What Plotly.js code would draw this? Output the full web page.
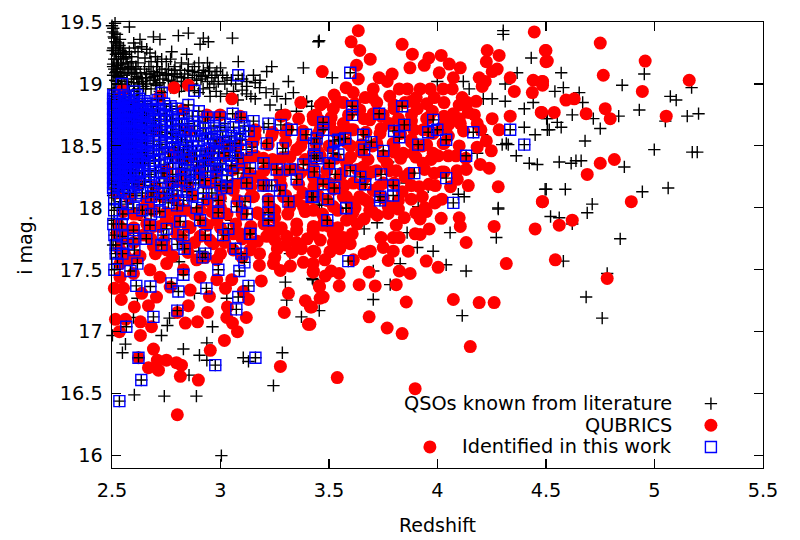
<!DOCTYPE html>
<html><head><meta charset="utf-8">
<script src="https://cdn.plot.ly/plotly-3.0.1.min.js"></script>
<style>html,body{margin:0;padding:0;background:#fff}</style></head>
<body><div id="chart" style="width:800px;height:540px"></div>
<script>
// [redshift, i mag]
const literature = [
[4.570,19.09],[4.58,18.97],[4.541,18.94],[4.653,18.93],[4.669,18.85],[4.851,18.99],[4.953,19.08],[5.171,18.97],[5.073,18.90],[5.10,18.87],[4.93,18.79],[4.835,18.74],[4.621,18.75],[4.718,18.72],[4.75,18.64],[4.503,18.72],[4.552,18.69],[4.57,18.65],[4.515,18.63],[5.151,18.74],[5.203,18.76],[5.05,18.70],[4.68,18.54],[4.999,18.47],[5.174,18.45],[5.197,18.45],[4.561,18.37],[4.616,18.36],[4.638,18.38],[4.662,18.38],[4.861,18.33],[4.501,18.15],[4.589,18.15],[5.063,18.16],[4.944,18.13],[4.713,18.03],[4.69,17.96],[4.521,17.93],[4.561,17.92],[4.621,17.87],[4.842,17.75],[4.58,17.57],[4.782,17.47],[4.685,17.28],[4.759,17.11],
[3.455,19.35],[4.303,19.40],[4.303,19.43],[4.432,19.21],[4.367,19.09],[3.515,19.05],[4.119,19.02],[3.999,19.02],[4.146,18.96],[4.312,19.0],[4.211,18.88],[4.252,18.88],[4.312,18.86],[4.4,18.80],[4.441,18.85],[4.506,18.72],[4.4,18.65],[4.506,18.63],[4.45,18.59],[4.206,18.59],[4.298,18.51],[4.326,18.51],[4.317,18.52],[4.363,18.42],[4.423,18.36],[4.46,18.35],[4.183,18.44],[4.496,18.15],[4.096,18.11],[4.123,18.09],[3.957,18.17],[3.773,18.37],[4.28,18.0],[3.857,18.2],[3.455,18.03],
[4.28,17.99],[4.058,17.80],[4.271,17.76],[3.86,17.80],[3.907,17.68],[3.98,17.65],[4.04,17.54],[4.132,17.49],[3.828,17.55],[3.704,17.26],[3.782,17.38],[4.114,17.13],[3.455,17.17],[3.427,17.42],[3.704,17.49],[3.662,17.83],[3.722,17.88],[3.911,18.01],[3.466,18.02],
[3.004,16.0],[2.889,16.48],[2.741,16.48],[2.603,16.49],[3.244,16.565],[2.855,16.65],[3.285,16.83],[3.129,16.76],[3.105,16.79],[2.903,16.81],[2.829,16.86],[2.937,16.91],[2.548,16.83],[2.562,16.9],[2.728,16.97],[2.963,17.04],[2.755,17.05],[2.765,17.11],[3.373,17.12],[2.599,17.115],[2.502,16.97],[3.029,17.27],[2.88,17.31],[3.299,17.4],[3.423,17.43],[3.305,17.255],[2.937,16.77],[2.617,17.27],[2.809,17.565],[3.32,17.63],[3.259,17.75],
[2.58,19.46],[2.514,19.49],[2.506,19.45],[2.514,19.41],[2.51,19.37],[2.522,19.33],[2.506,19.29],[2.537,19.36],[2.553,19.29],[2.53,19.25],[2.806,19.39],[2.852,19.41],[3.055,19.37],[3.451,19.34],[2.691,19.38],[2.721,19.36],[2.921,19.37],[2.944,19.34],[2.906,19.32],[2.629,19.36],[2.606,19.29],[2.637,19.30],[2.775,19.26],[2.844,19.24],[2.675,19.25],[2.652,19.21],[3.082,19.18],[3.382,19.13],[3.236,19.14],[3.213,19.10],[2.729,19.2],[2.706,19.14],[2.814,19.11],[2.852,19.16],[2.921,19.11],[2.983,19.10],[3.152,19.07],[3.313,19.02],[3.182,19.03],[3.244,18.96],[3.336,18.93],[3.228,18.83],[3.382,18.85],[3.397,18.86],[3.121,18.98],[2.952,18.9],
[2.553,19.2],[2.583,19.14],[2.537,19.09],[2.614,19.06],[2.568,19.02],[2.522,19.02],[2.675,19.05],[2.645,18.98],[2.514,18.95],[2.752,19.07],[2.783,19.02],[2.706,18.99],[2.52,19.2],[2.505,19.16],[2.51,19.12],[2.545,19.16],[2.56,19.12],[2.525,19.06],[2.59,19.22],[2.62,19.17],[2.65,19.12],[2.66,19.08],[2.71,19.07],[2.735,19.04],[2.76,19.12],[2.8,19.06],[2.835,19.08],[2.87,19.1],[2.9,19.09],[2.93,19.07],[2.96,19.05],[2.99,19.02],[3.03,19.05],[3.07,19.0],[2.82,18.98],[2.87,19.0],[2.92,18.96],[2.98,18.94],[2.6,18.98],[2.54,18.98],[2.68,18.96],[2.74,18.97],[2.505,18.85],[2.53,18.8],[2.505,18.7],[2.52,18.62],[2.505,18.5],[2.53,18.4],[2.51,18.3],[2.54,18.2],[2.505,18.1],[2.53,18.0],[2.51,17.9],[2.52,17.8],[2.505,17.7],[2.53,17.6],
[2.78,18.6],[2.85,18.5],[2.95,18.4],[3.05,18.3],[2.9,18.2],[2.75,18.1],[2.85,18.0],[3.0,18.05],[3.15,18.1],[3.3,18.45],[3.2,18.65],[3.1,18.55],[3.0,18.65],[2.9,18.7],[2.7,18.7],[2.65,18.5],[2.7,18.3],[2.8,18.25],[2.6,18.1],[2.65,17.9],[2.75,17.75],[2.9,17.65],[3.05,17.9],
[2.502,19.42],[2.508,19.38],[2.516,19.34],[2.528,19.31],[2.503,19.27],[2.518,19.24],[2.54,19.22],[2.51,19.2],[2.53,19.17],[2.505,19.14],[2.55,19.13],[2.52,19.1],[2.57,19.09],[2.505,19.07],[2.59,19.08],[2.545,19.05],[2.62,19.04],[2.515,19.03],[2.6,19.01],[2.56,18.99],[2.64,19.02],[2.53,18.97],[2.505,18.96],[2.66,19.0],[2.58,18.95],[2.69,19.03],[2.62,18.96],[2.72,19.01],[2.76,19.03],[2.79,18.99],[2.83,19.02],[2.85,19.05],[2.89,19.03],[2.91,19.04],[2.94,19.02],[2.97,19.0],[3.01,19.07],[3.05,19.03],[3.1,19.04],[3.12,19.02],[3.16,19.01],[2.69,19.1],[2.73,19.12],[2.79,19.14],[2.82,19.17],[2.61,19.12],[2.63,19.09],[2.57,19.17],[2.59,19.18],[2.56,19.24],[2.58,19.26],[2.54,19.27],[2.6,19.33],[2.62,19.26],[2.68,19.18],[2.7,19.22],[2.66,19.28],[2.75,19.18],[2.9,19.17],[2.95,19.13],[3.0,19.13],[3.18,18.97],[3.21,18.93],[3.26,18.9],[3.12,18.92],[3.16,18.88],[3.03,18.92],[3.08,18.87],
[2.5,19.47],[2.523,19.4],[2.535,19.31],[2.515,19.27],[2.548,19.25],[2.565,19.21],[2.525,19.15],[2.575,19.13],[2.597,19.12],[2.54,19.12],[2.515,19.09],[2.555,19.07],[2.59,19.04],[2.605,19.09],[2.635,19.05],[2.655,19.05],[2.68,19.08],[2.695,19.06],[2.72,19.09],[2.745,19.08],[2.775,19.08],[2.787,19.11],[2.82,19.05],[2.85,19.11],[2.88,19.07],[2.915,19.06],[2.945,19.1],[2.975,19.07],[3.02,19.0],[2.7,19.0],[2.77,18.97],[2.81,18.94],[2.855,18.95],[2.9,18.93],[2.95,18.97],[3.0,18.9],[3.06,18.94],[2.53,19.05],[2.575,18.98],[2.625,19.0],[2.655,18.96],[2.72,18.94],[2.61,19.14],[2.67,19.14],[2.71,19.18],[2.77,19.2],[2.79,19.08],[2.88,19.14],[2.94,19.17],[3.1,18.95],[3.14,18.9],[3.3,18.88],[3.42,18.82],[3.28,18.79],[3.35,18.78]
];
const qubrics = [
[4.750,19.33],[4.50,19.27],[4.506,19.185],[4.957,19.185],[4.764,19.07],[5.16,19.03],[4.484,19.02],[4.484,18.99],[4.944,18.94],[4.592,18.87],[4.63,18.88],[4.773,18.80],[4.796,18.72],[4.48,18.77],[4.538,18.77],[4.685,18.76],[5.054,18.74],[4.815,18.39],[4.75,18.36],[4.69,18.27],[4.484,18.05],[4.893,18.05],[4.621,17.90],[4.561,17.86],[4.543,17.58],[4.782,17.43],
[3.635,19.43],[3.602,19.34],[3.642,19.27],[3.69,19.20],[3.837,19.32],[3.884,19.24],[3.873,19.13],[3.469,19.10],[3.627,19.15],[3.635,19.04],[3.731,19.05],[3.791,19.08],[3.768,19.02],[3.939,19.15],[3.96,19.21],[4.017,19.23],[4.054,19.16],[4.105,19.13],[4.008,19.09],[4.073,19.05],[4.229,19.27],[4.284,19.23],[4.225,19.18],[4.275,19.12],[4.252,19.10],[4.192,19.05],[4.22,19.02],[4.206,18.98],[4.335,19.05],[4.446,19.42],[4.497,19.27],[4.50,19.18],[4.441,19.03],[4.483,19.02],[4.354,18.94],[4.437,18.93],[4.478,18.77],[3.524,18.91],[3.579,18.97],[3.612,18.93],[3.704,18.96],[3.667,18.89],[3.70,18.89],[3.473,18.85],[3.52,18.80],[3.566,18.85],[3.78,18.90],[3.824,18.96],[3.861,18.96],[3.92,18.96],[3.967,18.96],[4.026,18.96],[4.068,18.96],[3.985,18.89],[3.902,18.89],[4.114,18.89],[4.178,18.86],[4.137,18.85],[3.907,18.80],[4.142,18.77],[4.073,18.76],[3.976,18.78],[4.105,18.68],[4.054,18.68],[4.183,18.68],[4.252,18.72],[4.335,18.74],[4.284,18.63],[4.225,18.54],[4.183,18.49],[4.248,18.46],[4.197,18.35],[4.238,18.32],[4.132,18.31],[4.091,18.23],[4.142,18.18],[4.28,18.17],[4.483,18.05],[3.985,18.28],[4.031,18.29],[3.99,18.18],[3.916,18.17],[3.879,18.07],[3.837,18.13],[3.81,18.30],[3.934,18.36],[3.768,18.36],[3.842,18.44],[3.888,18.44],[3.796,18.52],[3.98,18.44],[4.003,18.42],[4.085,18.42],[4.026,18.52],[3.778,18.68],[3.842,18.67],[3.934,18.63],[3.735,18.60],[3.612,18.63],[3.566,18.68],[3.688,18.71],[3.504,18.68],[3.642,18.79],[3.704,18.76],[3.75,18.41],[3.658,18.33],[3.581,18.36],[3.612,18.20],[3.704,18.14],[3.566,18.09],[3.642,18.09],[3.773,18.01],[3.993,18.05],[3.942,18.0],[3.52,18.01],[3.427,18.74],[3.427,18.33],
[3.83,18.6],[3.88,18.55],[3.93,18.5],[3.98,18.6],[3.88,18.7],[3.8,18.45],[3.7,18.5],[3.65,18.45],[3.6,18.5],[3.55,18.6],[3.75,18.75],[3.8,18.8],[3.85,18.85],[3.95,18.72],[4.02,18.65],[4.05,18.58],[3.72,18.3],[3.85,18.25],[3.75,18.2],[3.67,18.25],[3.55,18.25],[3.5,18.35],[3.45,18.45],[3.45,18.6],[3.5,18.5],[3.6,18.05],[3.52,18.15],[3.46,18.22],[3.68,18.05],[3.62,18.0],
[4.45,17.83],[4.261,17.85],[4.10,17.92],[4.105,17.85],[4.132,17.72],[4.317,17.55],[3.948,17.57],[4.003,17.52],[3.865,17.65],[3.796,17.65],[3.773,17.575],[3.824,17.49],[3.874,17.47],[3.81,17.38],[3.685,17.48],[3.639,17.38],[3.713,17.37],[3.856,17.24],[4.073,17.26],[4.192,17.235],[4.261,17.235],[3.685,17.12],[3.768,17.03],[3.837,16.985],[4.151,16.88],[3.538,16.63],[3.897,16.54],[3.473,17.28],[3.547,17.37],[3.455,17.37],[3.547,17.47],[3.51,17.49],[3.483,17.45],[3.662,17.63],[3.69,17.65],[3.75,17.68],[3.74,17.76],[3.824,17.76],[3.796,17.76],[3.897,17.79],[3.92,17.785],[3.962,17.83],[3.81,17.86],[3.847,17.92],[3.92,17.91],[3.948,17.97],[4.017,17.915],[3.773,17.955],[3.722,17.94],[3.662,17.91],[3.607,17.79],[3.566,17.76],[3.52,17.79],[3.598,17.71],[3.55,17.67],[3.504,17.645],[3.481,17.58],[3.435,17.645],[3.427,17.55],[3.427,17.48],[3.42,17.2],[3.412,17.06],[3.427,17.82],[3.581,17.90],[3.988,18.04],[3.688,17.98],[3.612,17.58],
[2.801,16.33],[2.898,16.61],[3.276,16.72],[2.815,16.64],[2.714,16.69],[2.668,16.71],[2.751,16.77],[2.709,16.77],[2.797,16.75],[2.82,16.73],[2.622,16.79],[2.691,16.86],[2.953,16.85],[3.018,16.93],[2.631,16.97],[2.534,17.0],[2.516,17.10],[2.562,17.10],[2.682,17.04],[2.631,17.08],[2.838,17.07],[2.894,17.08],[3.078,17.0],[3.405,17.06],[3.414,17.20],[3.391,17.25],[3.294,17.155],[3.313,17.31],[3.188,17.41],[3.276,17.495],[3.322,17.53],[3.179,17.535],[3.244,17.55],[3.428,17.49],[3.382,17.56],[3.428,17.65],[3.373,17.67],[3.262,17.67],[3.456,17.36],[3.459,17.27],[3.129,17.26],[3.105,17.325],[3.023,17.35],[3.032,17.2],[3.029,17.115],[3.119,17.115],[3.055,17.07],[2.94,17.155],[2.852,17.21],[2.949,17.285],[2.801,17.155],[2.705,17.28],[2.603,17.2],[2.668,17.21],[2.543,17.26],[2.511,17.35],[2.553,17.35],[2.599,17.47],[2.537,17.55],[2.537,17.66],[2.675,17.5],[2.752,17.55],[2.768,17.36],[2.829,17.5],[2.906,17.44],[2.983,17.42],[3.052,17.42],[2.89,17.58],[2.983,17.58],[3.059,17.66],[3.136,17.66],[2.691,17.69],[2.844,17.69],[2.967,17.71],[3.213,17.77],[3.305,17.77],[3.428,17.79],[3.136,17.82],[3.228,17.82],[3.351,17.82],[2.645,17.78],[2.798,17.79],[2.906,17.77],[3.059,17.79],[2.629,17.61],[2.752,17.66],[2.583,17.58],[2.721,17.44],[2.86,17.336],[2.637,17.31],[2.537,17.44],
[2.786,18.97],[2.852,18.99],[3.052,18.88],[2.549,18.95],[3.298,18.75],[3.159,18.58],[3.236,18.58],[3.428,18.71],[3.136,18.41],[3.198,18.4],[3.282,18.4],[3.351,18.47],[3.428,18.44],[3.167,18.25],[3.274,18.23],[3.367,18.28],[3.428,18.25],[3.059,18.14],[3.029,18.17],[3.152,18.09],[3.228,18.01],[3.32,18.01],[3.382,18.01],[3.428,17.98],[3.351,17.87],[3.259,17.82],[3.428,17.85],[2.983,17.9],[2.906,17.98],[2.844,17.98],[2.798,17.96],[2.691,17.85],[2.568,17.82],[2.522,17.79],[3.09,17.79],[3.029,17.79],[2.952,18.2],[2.829,18.2],[2.906,18.28],[2.814,18.41],[3.09,18.74],[2.998,18.75],[2.937,18.75],[2.829,18.79],
[3.1,17.95],[3.18,17.95],[3.25,17.92],[3.3,18.1],[3.38,18.12],[3.2,18.18],[3.1,18.2],[3.0,18.0],[2.92,17.88],[2.85,17.85],[2.75,17.9],[2.65,18.0],[2.6,17.95],[3.15,17.72],[3.3,17.7],[3.4,17.75],[3.48,17.9],[3.5,17.85],[3.45,18.1],[3.3,18.3],[3.24,18.35],[3.1,18.35],[2.95,18.45],[3.03,18.5],[3.12,18.25],[3.38,18.55],[3.3,18.6],[3.46,18.7],
[3.965,16.07],
[2.56,17.62],[2.62,17.6],[2.7,17.63],[2.78,17.61],[2.85,17.64],[2.93,17.6],[3.0,17.63],[3.1,17.6],[3.18,17.63],[3.25,17.6],[3.33,17.64],
[2.54,17.74],[2.6,17.72],[2.68,17.75],[2.74,17.73],[2.82,17.76],[2.88,17.72],[2.95,17.74],[3.02,17.72],[3.1,17.75],[3.17,17.73],[3.25,17.74],[3.35,17.72],[3.46,17.74],[3.52,17.72],
[2.53,17.86],[2.6,17.84],[2.66,17.87],[2.72,17.85],[2.79,17.88],[2.86,17.84],[2.94,17.86],[3.0,17.84],[3.07,17.87],[3.14,17.85],[3.2,17.87],[3.28,17.84],[3.47,17.86],[3.54,17.84],[3.63,17.87],
[2.55,17.97],[2.62,17.95],[2.69,17.98],[2.75,17.96],[2.82,17.99],[2.88,17.95],[2.96,17.97],[3.03,17.95],[3.1,17.98],[3.17,17.96],[3.25,17.98],[3.31,17.95],[3.39,17.97],[3.47,17.95],[3.54,17.98],[3.61,17.96],[3.7,17.97],[3.82,17.99],[3.9,17.96],
[2.58,18.08],[2.66,18.06],[2.73,18.09],[2.79,18.07],[2.87,18.1],[2.94,18.06],[3.0,18.08],[3.08,18.06],[3.14,18.09],[3.22,18.07],[3.29,18.09],[3.35,18.06],[3.42,18.08],[3.49,18.06],[3.58,18.09],[3.66,18.07],[3.75,18.08],[3.82,18.06],[3.93,18.09],[4.02,18.07],
[2.62,18.19],[2.7,18.17],[2.77,18.2],[2.85,18.18],[2.93,18.2],[3.0,18.17],[3.06,18.19],[3.14,18.17],[3.2,18.2],[3.28,18.18],[3.36,18.19],[3.43,18.17],[3.5,18.2],[3.57,18.18],[3.65,18.19],[3.73,18.17],[3.8,18.2],[3.88,18.18],[3.96,18.19],[4.06,18.17],
[2.75,18.3],[2.82,18.28],[2.9,18.31],[2.98,18.29],[3.06,18.31],[3.13,18.28],[3.2,18.3],[3.27,18.28],[3.34,18.31],[3.42,18.29],[3.49,18.3],[3.56,18.28],[3.63,18.31],[3.7,18.29],[3.78,18.3],[3.87,18.28],[3.94,18.31],[4.02,18.29],[4.09,18.3],
[2.86,18.41],[2.94,18.39],[3.02,18.42],[3.09,18.4],[3.16,18.42],[3.24,18.39],[3.32,18.41],[3.39,18.39],[3.46,18.42],[3.53,18.4],[3.6,18.41],[3.68,18.39],[3.75,18.42],[3.83,18.4],[3.9,18.41],[3.97,18.39],[4.05,18.42],[4.13,18.4],
[3.0,18.52],[3.08,18.5],[3.15,18.53],[3.22,18.51],[3.3,18.53],[3.37,18.5],[3.44,18.52],[3.51,18.5],[3.58,18.53],[3.65,18.51],[3.72,18.52],[3.8,18.5],[3.88,18.53],[3.95,18.51],[4.03,18.52],[4.1,18.5],
[3.16,18.63],[3.24,18.61],[3.31,18.64],[3.38,18.62],[3.46,18.64],[3.53,18.61],[3.6,18.63],[3.67,18.61],[3.74,18.64],[3.82,18.62],[3.89,18.63],[3.97,18.61],[4.04,18.64],[4.12,18.62],[4.2,18.63],
[3.28,18.74],[3.36,18.72],[3.44,18.75],[3.51,18.73],[3.59,18.75],[3.66,18.72],[3.74,18.74],[3.82,18.72],[3.88,18.75],[3.96,18.73],[4.03,18.74],[4.1,18.72],[4.17,18.75],
[3.37,18.85],[3.46,18.83],[3.54,18.86],[3.62,18.84],[3.72,18.85],[3.8,18.83],[3.88,18.86],[3.95,18.84],[4.03,18.85],[4.1,18.83],
[2.53,18.88],[2.6,18.83],[2.72,18.9],[2.54,18.7],[2.7,18.62],[2.85,18.62],[2.62,18.4],[2.78,18.45],[2.54,18.3],[2.68,18.08],[2.52,18.12]
];
const identified = [
[3.598,19.09],[3.607,18.82],[3.607,18.75],[3.731,18.76],[3.837,18.82],[3.98,18.71],[3.847,18.67],[3.80,18.62],[3.824,18.57],[3.957,18.61],[3.999,18.63],[4.04,18.55],[3.911,18.51],[4.165,18.61],[4.335,18.63],[4.40,18.51],[4.132,18.42],[4.04,18.24],[3.893,18.28],[3.74,18.27],[3.75,18.46],[3.695,18.53],[3.658,18.59],[3.662,18.47],[3.575,18.56],[3.543,18.55],[3.524,18.54],[3.473,18.69],[3.473,18.63],[3.432,18.52],[3.432,18.42],[3.52,18.44],[3.543,18.43],[3.501,18.36],[3.598,18.30],[3.529,18.27],[3.644,18.25],[3.667,18.19],[3.524,18.16],[3.473,18.19],[3.432,18.29],[3.427,18.09],[3.496,18.07],[3.796,18.18],[3.796,18.10],[3.736,18.09],[3.579,18.0],[4.073,18.04],
[3.589,17.57],[3.492,17.90],[3.579,17.996],[3.735,18.06],
[2.534,16.44],[2.635,16.61],[2.976,16.73],[2.622,16.79],[3.161,16.79],[2.566,17.04],[2.691,17.12],[2.801,17.17],[3.073,17.18],[3.082,17.28],[3.129,17.37],[2.935,17.35],[2.806,17.325],[2.774,17.39],[2.677,17.365],[2.612,17.37],[2.511,17.50],[2.525,17.55],[2.585,17.49],[2.617,17.55],[2.829,17.46],[2.99,17.50],[3.087,17.49],[3.11,17.56],[3.096,17.63],[3.069,17.67],[2.917,17.6],[2.93,17.63],[2.834,17.67],[2.801,17.705],[2.728,17.70],[2.603,17.66],[2.517,17.70],[2.517,17.63],[2.548,17.63],[2.571,17.71],[2.548,17.77],[2.511,17.78],[2.599,17.75],[2.658,17.75],[2.829,17.78],[2.737,17.78],[2.93,17.78],[3.013,17.78],[3.138,17.79],
[3.082,19.07],[2.88,18.945],[2.545,19.0],[2.603,18.94],[2.729,18.93],[2.506,18.91],[2.852,18.83],[2.941,18.73],[2.998,18.73],[3.056,18.76],[3.095,18.73],[3.152,18.70],[3.221,18.68],[3.278,18.67],[3.328,18.63],[3.394,18.59],[3.443,18.56],[3.287,18.48],[3.213,18.52],[3.144,18.49],[3.198,18.36],[3.136,18.32],[3.259,18.31],[3.351,18.23],[3.382,18.35],[3.443,18.4],[3.32,18.31],[3.236,18.18],[3.198,18.18],[3.121,18.2],[3.029,18.16],[3.42,18.09],[3.313,18.05],[3.274,18.14],[3.221,18.05],[3.221,17.96],[3.221,17.90],[3.113,18.05],[3.121,17.95],[3.075,18.01],[2.99,18.06],[2.99,17.96],[3.036,17.83],[3.136,17.79],[2.89,18.0],[2.906,17.9],[2.814,17.89],[2.752,17.83],[2.675,17.86],[2.545,17.87],[2.506,17.87],[2.599,17.82],[2.921,18.12],[2.844,18.13],
[2.505,18.88],[2.52,18.84],[2.54,18.86],[2.56,18.89],[2.58,18.87],[2.6,18.85],[2.625,18.88],[2.65,18.86],[2.68,18.84],[2.71,18.87],[2.505,18.8],[2.525,18.77],[2.545,18.8],[2.565,18.76],[2.585,18.8],[2.605,18.77],[2.63,18.8],[2.66,18.76],[2.69,18.79],[2.72,18.76],[2.75,18.79],[2.78,18.75],[2.81,18.72],[2.505,18.72],[2.525,18.69],[2.545,18.72],[2.565,18.68],[2.585,18.72],[2.605,18.69],[2.63,18.71],[2.66,18.68],[2.69,18.7],[2.72,18.67],[2.75,18.7],[2.78,18.66],[2.81,18.63],[2.85,18.68],[2.88,18.62],[2.92,18.64],[2.96,18.6],[3.0,18.62],[3.05,18.58],[3.09,18.6],
[2.505,18.64],[2.525,18.61],[2.545,18.64],[2.565,18.6],[2.585,18.64],[2.605,18.61],[2.63,18.63],[2.66,18.6],[2.69,18.62],[2.72,18.59],[2.75,18.61],[2.78,18.57],[2.82,18.55],[2.86,18.58],[2.9,18.54],[2.94,18.56],[2.98,18.52],[3.03,18.5],[3.07,18.52],[2.505,18.56],[2.525,18.53],[2.545,18.56],[2.565,18.52],[2.585,18.56],[2.605,18.53],[2.63,18.55],[2.66,18.52],[2.69,18.54],[2.72,18.51],[2.75,18.53],[2.79,18.49],[2.83,18.47],[2.87,18.5],[2.91,18.46],[2.95,18.48],[2.99,18.44],[3.04,18.42],[3.08,18.4],
[2.505,18.48],[2.525,18.45],[2.545,18.48],[2.565,18.44],[2.585,18.48],[2.605,18.45],[2.63,18.47],[2.66,18.44],[2.69,18.46],[2.72,18.43],[2.76,18.45],[2.8,18.41],[2.84,18.39],[2.88,18.42],[2.92,18.38],[2.96,18.4],[3.0,18.36],[2.505,18.4],[2.525,18.37],[2.545,18.4],[2.565,18.36],[2.585,18.4],[2.61,18.37],[2.64,18.39],[2.67,18.36],[2.7,18.38],[2.74,18.35],[2.78,18.36],[2.82,18.32],[2.86,18.3],[2.9,18.33],[2.94,18.29],[2.98,18.3],[3.03,18.26],
[2.505,18.32],[2.525,18.29],[2.545,18.32],[2.565,18.28],[2.585,18.31],[2.61,18.28],[2.64,18.3],[2.67,18.27],[2.7,18.29],[2.74,18.25],[2.78,18.27],[2.82,18.22],[2.86,18.2],[2.9,18.23],[2.505,18.24],[2.525,18.21],[2.545,18.24],[2.565,18.2],[2.59,18.22],[2.62,18.19],[2.65,18.21],[2.68,18.18],[2.72,18.2],[2.76,18.16],[2.8,18.14],[2.505,18.16],[2.525,18.13],[2.55,18.15],[2.58,18.12],[2.61,18.1],[2.64,18.12],[2.68,18.09],[2.72,18.07],[2.76,18.04],[2.8,18.02],[2.51,18.08],[2.54,18.05],[2.57,18.03],[2.6,18.0],[2.64,17.98],[2.68,17.95],[2.72,17.97],[2.51,17.98],[2.55,17.95],
[2.512,18.9],[2.535,18.88],[2.575,18.9],[2.615,18.91],[2.515,18.86],[2.555,18.85],[2.595,18.83],[2.64,18.84],[2.51,18.82],[2.535,18.82],[2.575,18.83],[2.62,18.82],[2.515,18.78],[2.555,18.78],[2.595,18.78],[2.64,18.78],[2.508,18.75],[2.535,18.74],[2.575,18.75],[2.615,18.74],[2.65,18.74],[2.515,18.7],[2.555,18.7],[2.595,18.7],[2.64,18.69],[2.51,18.67],[2.535,18.66],[2.575,18.66],[2.615,18.66],[2.65,18.66],[2.515,18.62],[2.555,18.62],[2.595,18.62],[2.64,18.61],[2.51,18.59],[2.535,18.58],[2.575,18.58],[2.615,18.58],[2.65,18.58],[2.515,18.54],[2.555,18.54],[2.595,18.54],[2.64,18.53],[2.51,18.51],[2.535,18.5],[2.575,18.5],[2.615,18.5],[2.65,18.5],[2.515,18.46],[2.555,18.46],[2.595,18.46],[2.64,18.45],[2.51,18.43],[2.535,18.42],[2.575,18.42],[2.615,18.42],[2.65,18.42],[2.515,18.38],[2.555,18.38],[2.595,18.38],[2.63,18.37],[2.51,18.35],[2.535,18.34],[2.575,18.34],[2.615,18.34],[2.65,18.34],[2.515,18.3],[2.555,18.3],[2.595,18.3],[2.625,18.29],[2.51,18.27],[2.535,18.26],[2.575,18.26],[2.61,18.25],[2.515,18.22],[2.555,18.22],[2.58,18.2],[2.51,18.19],[2.535,18.18],[2.57,18.17],[2.6,18.17],
[2.68,18.82],[2.71,18.8],[2.74,18.84],[2.77,18.82],[2.8,18.8],[2.83,18.76],[2.87,18.74],[2.9,18.78],[2.67,18.74],[2.7,18.72],[2.74,18.74],[2.77,18.71],[2.82,18.68],[2.84,18.62],[2.88,18.66],[2.93,18.69],[2.97,18.66],[3.02,18.68],[3.06,18.65],[3.11,18.66],[3.13,18.62],[2.68,18.65],[2.73,18.63],[2.77,18.6],[2.8,18.57],[2.84,18.53],[2.89,18.58],[2.93,18.6],[2.97,18.55],[3.01,18.57],[3.04,18.54],[3.09,18.55],[3.12,18.47],[3.07,18.45],[3.02,18.45],[2.97,18.45],[2.93,18.43],[2.89,18.46],[2.85,18.44],[2.81,18.46],[2.78,18.52],[2.73,18.48],[2.69,18.42],[2.72,18.39],[2.77,18.41],[2.81,18.36],[2.85,18.35],[2.89,18.37],[2.93,18.34],[2.97,18.34],[3.01,18.31],[3.05,18.34],[3.08,18.28],[3.03,18.22],[2.98,18.24],[2.93,18.22],[2.88,18.27],[2.84,18.26],[2.78,18.21],[2.73,18.28],[2.68,18.25],[2.69,18.13],[2.74,18.12],[2.78,18.1],[2.83,18.06],[2.87,18.1],[2.92,18.07],[2.96,18.12],[3.0,18.18]
];
const legendLabels = ["QSOs known from literature","QUBRICS","Identified in this work"];
const legendKeyZ = [5.26,5.26,5.26];
const legendKeyMag = [16.42,16.245,16.07];
const legendTextZ = 5.09;

const zOf = a => a.map(p => p[0]);
const magOf = a => a.map(p => p[1]);
const FONT = "DejaVu Sans";
const cross = {symbol:"cross-thin-open",size:8.8,color:"#000",line:{color:"#000",width:1.4}};
const disc = {symbol:"circle",size:13,color:"#ff0000",line:{width:0}};
const box = {symbol:"square-open",size:11,color:"#0000ff",line:{color:"#0000ff",width:1.4}};
const pts = (x,y,marker,name) => ({type:"scatter",mode:"markers",x,y,marker,name,showlegend:false,hoverinfo:"skip",cliponaxis:false});
const traces = [
  pts(zOf(literature),magOf(literature),cross,legendLabels[0]),
  pts(zOf(qubrics),magOf(qubrics),disc,legendLabels[1]),
  pts(zOf(identified),magOf(identified),cross,legendLabels[2]+" (literature mark)"),
  pts(zOf(identified),magOf(identified),box,legendLabels[2]),
  pts([legendKeyZ[0]],[legendKeyMag[0]],cross,"key"),
  pts([legendKeyZ[1]],[legendKeyMag[1]],disc,"key"),
  pts([legendKeyZ[2]],[legendKeyMag[2]],box,"key")
];
const axis = {showgrid:false,zeroline:false,showline:true,linecolor:"#000",linewidth:1.4,mirror:"allticks",ticks:"inside",ticklen:9,tickwidth:1.2,tickcolor:"#000",ticklabelstandoff:4,tickfont:{family:FONT,size:19.3,color:"#000"}};
const layout = {
  width:800,height:540,paper_bgcolor:"#fff",plot_bgcolor:"#fff",
  margin:{l:112,r:37,t:22,b:72,pad:0},
  font:{family:FONT,color:"#000"},showlegend:false,
  xaxis:Object.assign({},axis,{range:[2.5,5.5],tickvals:[2.5,3,3.5,4,4.5,5,5.5],ticktext:["2.5","3","3.5","4","4.5","5","5.5"],title:{text:"Redshift",font:{family:FONT,size:19,color:"#000"},standoff:18}}),
  yaxis:Object.assign({},axis,{range:[15.9,19.5],tickvals:[16,16.5,17,17.5,18,18.5,19,19.5],ticktext:["16","16.5","17","17.5","18","18.5","19","19.5"],title:{text:"i mag.",font:{family:FONT,size:19,color:"#000"},standoff:22}}),
  annotations:legendLabels.map((t,i)=>({text:t,x:legendTextZ,y:legendKeyMag[i],xref:"x",yref:"y",xanchor:"right",yanchor:"middle",showarrow:false,font:{family:FONT,size:19.3,color:"#000"}}))
};
Plotly.newPlot("chart",traces,layout,{displayModeBar:false,staticPlot:true});
</script></body></html>
